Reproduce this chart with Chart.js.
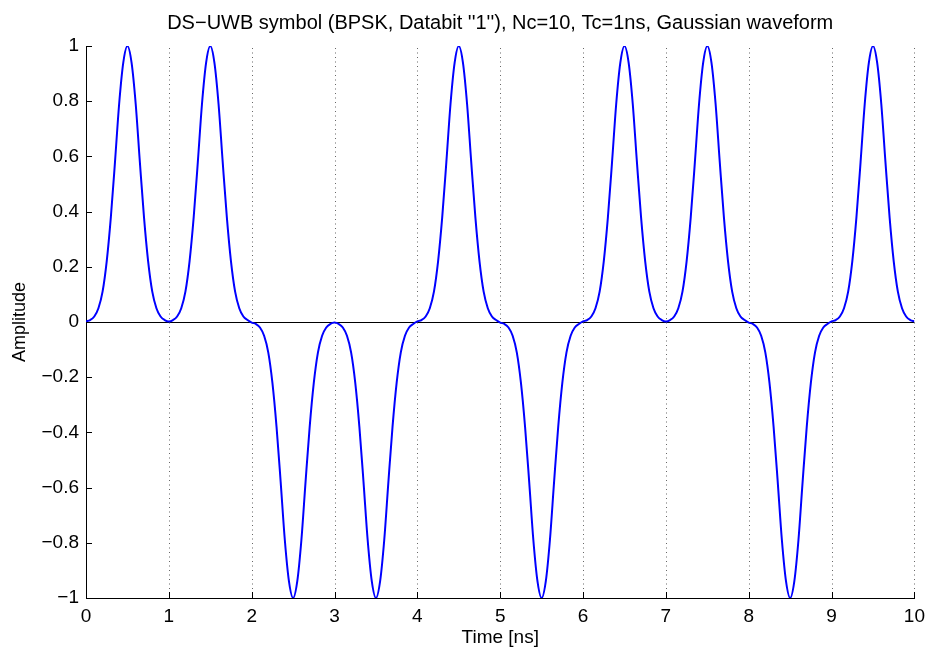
<!DOCTYPE html>
<html>
<head>
<meta charset="utf-8">
<script src="https://cdn.jsdelivr.net/npm/chart.js@4.4.0/dist/chart.umd.min.js"></script>
<style>
  html, body { margin: 0; padding: 0; background: #fff; }
  #wrap { width: 932px; height: 649px; }
</style>
</head>
<body>
<div id="wrap"><canvas id="symbolChart" width="932" height="649"></canvas></div>
<script>
// chip polarities of the spreading code (Nc = 10)
const chipSigns = [1, 1, -1, -1, 1, -1, 1, 1, -1, 1];
// one Gaussian pulse, sampled across a chip of Tc = 1 ns
const pulseOffsets = [0, 0.05, 0.1, 0.15, 0.2, 0.25, 0.3, 0.35, 0.4, 0.45, 0.5,
                      0.55, 0.6, 0.65, 0.7, 0.75, 0.8, 0.85, 0.9, 0.95, 1];
const pulseShape = [0.002, 0.007, 0.02, 0.05, 0.11, 0.22, 0.38, 0.58, 0.79, 0.94, 1,
                    0.94, 0.79, 0.58, 0.38, 0.22, 0.11, 0.05, 0.02, 0.007, 0.002];
const xTickValues = [0, 1, 2, 3, 4, 5, 6, 7, 8, 9, 10];
const yTickValues = [-1, -0.8, -0.6, -0.4, -0.2, 0, 0.2, 0.4, 0.6, 0.8, 1];

const FONT = "'Liberation Sans', Arial, Helvetica, sans-serif";

// chain the pulses chip by chip
const waveform = [];
chipSigns.forEach((s, k) => {
  pulseOffsets.forEach((off, j) => {
    if (j === pulseOffsets.length - 1 && k < chipSigns.length - 1) return;
    waveform.push({ x: k + off, y: s * pulseShape[j] });
  });
});

const fmt = v => {
  const r = Math.round(v * 10) / 10;
  return String(r).replace('-', '\u2212');
};

// MATLAB style inward tick marks
const inwardTicks = {
  id: 'inwardTicks',
  afterDatasetsDraw(chart) {
    const { ctx, chartArea: a, scales: { x, y } } = chart;
    ctx.save();
    ctx.strokeStyle = '#000';
    ctx.lineWidth = 1;
    ctx.beginPath();
    xTickValues.forEach(v => {
      const px = Math.round(x.getPixelForValue(v)) + 0.5;
      ctx.moveTo(px, a.bottom);
      ctx.lineTo(px, a.bottom - 6);
    });
    yTickValues.forEach(v => {
      const py = Math.round(y.getPixelForValue(v)) + 0.5;
      ctx.moveTo(a.left, py);
      ctx.lineTo(a.left + 6, py);
    });
    ctx.stroke();
    ctx.restore();
  }
};

// dotted vertical grid at each nanosecond
const dottedGrid = {
  id: 'dottedGrid',
  beforeDatasetsDraw(chart) {
    const { ctx, chartArea: a, scales: { x } } = chart;
    ctx.save();
    ctx.strokeStyle = '#666';
    ctx.lineWidth = 1;
    ctx.setLineDash([1, 3.5]);
    ctx.beginPath();
    xTickValues.slice(1).forEach(v => {
      const px = Math.round(x.getPixelForValue(v)) + 0.5;
      ctx.moveTo(px, a.bottom);
      ctx.lineTo(px, a.top);
    });
    ctx.stroke();
    ctx.restore();
  }
};

new Chart(document.getElementById('symbolChart'), {
  type: 'line',
  data: {
    datasets: [{
      data: waveform,
      borderColor: '#0000ff',
      borderWidth: 2,
      pointRadius: 0,
      cubicInterpolationMode: 'monotone',
      fill: false
    }]
  },
  options: {
    responsive: false,
    animation: false,
    events: [],
    layout: { padding: { left: 0, right: 13, top: 0, bottom: 0 } },
    plugins: {
      legend: { display: false },
      tooltip: { enabled: false },
      title: {
        display: true,
        fullSize: false,
        text: "DS\u2212UWB symbol (BPSK, Databit ''1''), Nc=10, Tc=1ns, Gaussian waveform",
        color: '#000',
        font: { family: FONT, size: 20, weight: 'normal', lineHeight: 1.2 },
        padding: { top: 11, bottom: 11 }
      }
    },
    scales: {
      x: {
        type: 'linear',
        min: 0,
        max: 10,
        afterBuildTicks: s => { s.ticks = xTickValues.map(v => ({ value: v })); },
        afterFit: s => { s.height = 51; },
        border: { display: true, color: '#000', width: 1 },
        grid: { display: false, drawTicks: false },
        ticks: {
          color: '#000',
          padding: 7,
          maxRotation: 0,
          font: { family: FONT, size: 19 },
          callback: v => fmt(v)
        },
        title: {
          display: true,
          text: 'Time [ns]',
          color: '#000',
          font: { family: FONT, size: 19 },
          padding: { top: 0, bottom: 0 }
        }
      },
      y: {
        type: 'linear',
        min: -1,
        max: 1,
        afterBuildTicks: s => { s.ticks = yTickValues.map(v => ({ value: v })); },
        afterFit: s => { s.width = 86; },
        border: { display: true, color: '#000', width: 1 },
        grid: {
          drawTicks: false,
          lineWidth: 1,
          color: c => (c.tick && c.tick.value === 0 ? '#000' : 'rgba(0,0,0,0)')
        },
        ticks: {
          color: '#000',
          padding: 7,
          font: { family: FONT, size: 19 },
          callback: v => fmt(v)
        },
        title: {
          display: true,
          text: 'Amplitude',
          color: '#000',
          font: { family: FONT, size: 18 },
          padding: { top: 9, bottom: 0 }
        }
      }
    }
  },
  plugins: [inwardTicks, dottedGrid]
});
</script>
</body>
</html>
